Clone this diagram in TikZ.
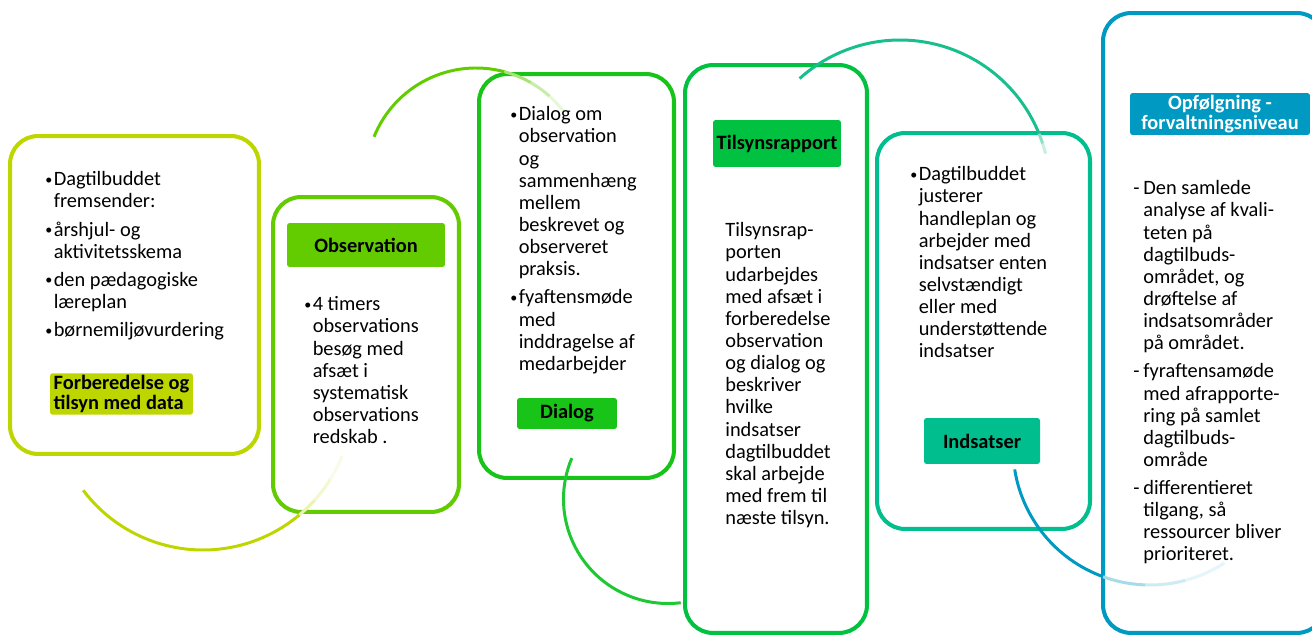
\documentclass[tikz,border=0pt]{standalone}
\usepackage{fontspec}
\setmainfont{Carlito}
\usepackage{array}

\definecolor{forbcol}{RGB}{190,214,0}
\definecolor{obscol}{RGB}{98,204,0}
\definecolor{diacol}{RGB}{24,196,24}
\definecolor{rapcol}{RGB}{0,194,64}
\definecolor{indcol}{RGB}{0,190,142}
\definecolor{opfcol}{RGB}{0,153,194}
\definecolor{dialarc}{RGB}{30,200,50}
\definecolor{indarc}{RGB}{24,190,140}

\newcommand{\bulpt}{\raisebox{0.9pt}{\fontsize{8}{8}\selectfont\textbullet}}

\begin{document}
\begin{tikzpicture}[x=0.02cm, y=-0.02cm,
  font=\fontsize{11.6}{12.6}\selectfont,
  stage/.style={draw=#1, line width=2.3pt, rounded corners=0.56cm, fill=white, inner sep=0pt},
  tag/.style={fill=#1, rounded corners=1.5pt, inner sep=1pt, font=\fontsize{11.6}{11.6}\selectfont\bfseries},
  body/.style={anchor=north west, inner sep=0pt},
  swirl/.style={draw=#1, line width=1.7pt}]
                \useasboundingbox (0,0) rectangle (1312,635);

                \node[stage=forbcol, minimum width=4.98cm, minimum height=6.36cm] (forb) at (134.5,295) {};
                \node[stage=obscol, minimum width=3.72cm, minimum height=6.3cm] (obs) at (366,354.5) {};
                \node[stage=diacol, minimum width=3.9cm, minimum height=8.08cm] (dia) at (576.5,276) {};
                \node[stage=rapcol, minimum width=3.64cm, minimum height=11.36cm] (rap) at (776,349) {};
                \node[stage=indcol, minimum width=4.26cm, minimum height=7.92cm] (ind) at (983.5,331) {};
                \node[stage=opfcol, minimum width=4.44cm, minimum height=12.4cm] (opf) at (1214,323) {};

                \coordinate (cA) at (203,400);
                \coordinate (cB) at (476,178);
                \coordinate (cC) at (668,499);
                \coordinate (cD) at (900,190);
                \coordinate (cE) at (1150,448);

                \draw[swirl=forbcol] (cA) ++(143:150) arc[start angle=143, end angle=50, radius=150];
                \draw[swirl=forbcol!30] (cA) ++(50:150) arc[start angle=50, end angle=42, radius=150];
                \draw[swirl=forbcol!18] (cA) ++(42:150) arc[start angle=42, end angle=32, radius=150];
                \draw[swirl=forbcol!9] (cA) ++(32:150) arc[start angle=32, end angle=22, radius=150];

                \draw[swirl=obscol] (cB) ++(202:110) arc[start angle=202, end angle=285, radius=110];
                \draw[swirl=obscol!55] (cB) ++(285:110) arc[start angle=285, end angle=300, radius=110];
                \draw[swirl=obscol!35] (cB) ++(300:110) arc[start angle=300, end angle=312, radius=110];
                \draw[swirl=obscol!15] (cB) ++(312:110) arc[start angle=312, end angle=323, radius=110];

                \draw[swirl=dialarc] (cC) ++(203:104.5) arc[start angle=203, end angle=83, radius=104.5];

                \draw[swirl=indarc] (cD) ++(228:150) arc[start angle=228, end angle=338, radius=150];
                \draw[swirl=indarc!50] (cD) ++(338:150) arc[start angle=338, end angle=342, radius=150];
                \draw[swirl=indarc!25] (cD) ++(342:150) arc[start angle=342, end angle=346, radius=150];

                \draw[swirl=opfcol] (cE) ++(171:137) arc[start angle=171, end angle=110, radius=137];
                \draw[swirl=opfcol!35] (cE) ++(110:137) arc[start angle=110, end angle=92, radius=137];
                \draw[swirl=opfcol!20] (cE) ++(92:137) arc[start angle=92, end angle=75, radius=137];
                \draw[swirl=opfcol!10] (cE) ++(75:137) arc[start angle=75, end angle=57, radius=137];

                \node[tag=forbcol, minimum width=2.86cm, minimum height=0.8cm, align=left] (forbtag) at (121.5,394) {Forberedelse og\\tilsyn med data};
                \node[tag=obscol, minimum width=3.16cm, minimum height=0.88cm] (obstag) at (366,245) {Observation};
                \node[tag=diacol, minimum width=2cm, minimum height=0.62cm] (diatag) at (567,413.5) {Dialog};
                \node[tag=rapcol, minimum width=2.56cm, minimum height=0.94cm] (raptag) at (777,143.5) {Tilsynsrapport};
                \node[tag=indcol, minimum width=2.32cm, minimum height=0.92cm] (indtag) at (982,441) {Indsatser};
                \node[tag=opfcol, text=white, minimum width=3.6cm, minimum height=0.84cm, align=center] (opftag) at (1220,114) {Opfølgning -\\forvaltningsniveau};

                \node[body] (forbtxt) at (45,170) {\begin{tabular}{@{}p{4.8pt}@{}l@{}}
                  \bulpt & Dagtilbuddet\\ & fremsender:\\[3.4pt]
                  \bulpt & årshjul- og\\ & aktivitetsskema\\[3.4pt]
                  \bulpt & den pædagogiske\\ & læreplan\\[3.4pt]
                  \bulpt & børnemiljøvurdering
                \end{tabular}};

                \node[body] (obstxt) at (304,295) {\begin{tabular}{@{}p{4.8pt}@{}l@{}}
                  \bulpt & 4 timers\\ & observations\\ & besøg med\\ & afsæt i\\ & systematisk\\ & observations\\ & redskab .
                \end{tabular}};

                \node[body] (diatxt) at (510,105) {\begin{tabular}{@{}p{4.8pt}@{}l@{}}
                  \bulpt & Dialog om\\ & observation\\ & og\\ & sammenhæng\\ & mellem\\ & beskrevet og\\ & observeret\\ & praksis.\\[3.4pt]
                  \bulpt & fyaftensmøde\\ & med\\ & inddragelse af\\ & medarbejder
                \end{tabular}};

                \node[body] (raptxt) at (725,221) {\begin{tabular}{@{}l@{}}
                  Tilsynsrap-\\porten\\udarbejdes\\med afsæt i\\forberedelse\\observation\\og dialog og\\beskriver\\hvilke\\indsatser\\dagtilbuddet\\skal arbejde\\med frem til\\næste tilsyn.
                \end{tabular}};

                \node[body] (indtxt) at (910,165) {\begin{tabular}{@{}p{4.8pt}@{}l@{}}
                  \bulpt & Dagtilbuddet\\ & justerer\\ & handleplan og\\ & arbejder med\\ & indsatser enten\\ & selvstændigt\\ & eller med\\ & understøttende\\ & indsatser
                \end{tabular}};

                \node[body] (opftxt) at (1133,179) {\begin{tabular}{@{}p{5.7pt}@{}l@{}}
                  - & Den samlede\\ & analyse af kvali-\\ & teten på\\ & dagtilbuds-\\ & området, og\\ & drøftelse af\\ & indsatsområder\\ & på området.\\[3.4pt]
                  - & fyraftensamøde\\ & med afrapporte-\\ & ring på samlet\\ & dagtilbuds-\\ & område\\[3.4pt]
                  - & differentieret\\ & tilgang, så\\ & ressourcer bliver\\ & prioriteret.
                \end{tabular}};
            \end{tikzpicture}
\end{document}
